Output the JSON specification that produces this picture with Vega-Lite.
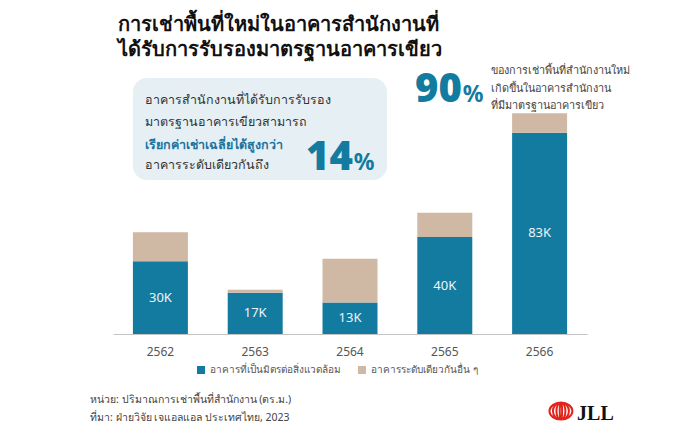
{
  "$schema": "https://vega.github.io/schema/vega-lite/v6.json",
  "width": 474,
  "height": 274,
  "autosize": {"type": "none"},
  "padding": {"left": 113, "top": 60, "right": 113, "bottom": 104},
  "background": "white",
  "config": {
    "view": {"stroke": null},
    "font": "Noto Sans, DejaVu Sans, sans-serif"
  },
  "title": {
    "text": ["การเช่าพื้นที่ใหม่ในอาคารสำนักงานที่", "ได้รับการรับรองมาตรฐานอาคารเขียว"],
    "anchor": "start",
    "frame": "group",
    "fontSize": 20,
    "fontWeight": "bold",
    "color": "#111111",
    "lineHeight": 25,
    "offset": 0,
    "dx": 5
  },
  "resolve": {"scale": {"x": "independent", "y": "independent"}},
  "layer": [
    {
      "data": {
        "values": [
          {"year": "2562", "type": "อาคารที่เป็นมิตรต่อสิ่งแวดล้อม", "k": 0, "v": 30, "label": "30K"},
          {"year": "2562", "type": "อาคารระดับเดียวกันอื่น ๆ", "k": 1, "v": 12, "label": ""},
          {"year": "2563", "type": "อาคารที่เป็นมิตรต่อสิ่งแวดล้อม", "k": 0, "v": 17, "label": "17K"},
          {"year": "2563", "type": "อาคารระดับเดียวกันอื่น ๆ", "k": 1, "v": 1.3, "label": ""},
          {"year": "2564", "type": "อาคารที่เป็นมิตรต่อสิ่งแวดล้อม", "k": 0, "v": 13, "label": "13K"},
          {"year": "2564", "type": "อาคารระดับเดียวกันอื่น ๆ", "k": 1, "v": 18, "label": ""},
          {"year": "2565", "type": "อาคารที่เป็นมิตรต่อสิ่งแวดล้อม", "k": 0, "v": 40, "label": "40K"},
          {"year": "2565", "type": "อาคารระดับเดียวกันอื่น ๆ", "k": 1, "v": 10, "label": ""},
          {"year": "2566", "type": "อาคารที่เป็นมิตรต่อสิ่งแวดล้อม", "k": 0, "v": 83, "label": "83K"},
          {"year": "2566", "type": "อาคารระดับเดียวกันอื่น ๆ", "k": 1, "v": 8, "label": ""}
        ]
      },
      "layer": [
        {
          "mark": {"type": "bar"},
          "encoding": {
            "x": {
              "field": "year", "type": "ordinal",
              "scale": {"paddingInner": 0.42, "paddingOuter": 0.21},
              "axis": {"title": null, "labelAngle": 0, "ticks": false, "domainColor": "#c4c4c4", "labelColor": "#555555", "labelFontSize": 12, "labelPadding": 12, "grid": false}
            },
            "y": {
              "field": "v", "type": "quantitative", "stack": "zero",
              "scale": {"domain": [0, 113], "nice": false, "zero": true},
              "axis": null
            },
            "color": {
              "field": "type", "type": "nominal",
              "scale": {"domain": ["อาคารที่เป็นมิตรต่อสิ่งแวดล้อม", "อาคารระดับเดียวกันอื่น ๆ"], "range": ["#137ba0", "#cfb8a4"]},
              "legend": {"title": null, "orient": "none", "legendX": 83, "legendY": 305, "direction": "horizontal", "symbolType": "square", "symbolSize": 64, "symbolStrokeWidth": 0, "labelFontSize": 10, "labelColor": "#555555", "columnPadding": 16}
            },
            "order": {"field": "k", "type": "quantitative"}
          }
        },
        {
          "mark": {"type": "text", "color": "#eef5f8", "fontSize": 13, "baseline": "middle"},
          "encoding": {
            "x": {"field": "year", "type": "ordinal"},
            "y": {"field": "v", "type": "quantitative", "stack": "zero", "bandPosition": 0.5, "scale": {"domain": [0, 113], "nice": false, "zero": true}},
            "detail": {"field": "type"},
            "order": {"field": "k", "type": "quantitative"},
            "text": {"field": "label"}
          }
        }
      ]
    },
    {
      "layer": [
        {
          "data": {"values": [{"x": 4.2, "x2": 57.8, "y": 105.6, "y2": 63.5}]},
          "mark": {"type": "rect", "fill": "#e6f0f4", "cornerRadius": 14},
          "encoding": {
            "x": {"field": "x", "type": "quantitative", "scale": {"domain": [0, 100], "nice": false, "zero": false}, "axis": null},
            "x2": {"field": "x2"},
            "y": {"field": "y", "type": "quantitative", "scale": {"domain": [0, 113], "nice": false, "zero": false}, "axis": null},
            "y2": {"field": "y2"}
          }
        },
        {
          "data": {"values": [
            {"x": 6.75, "y": 96.5, "t": "อาคารสำนักงานที่ได้รับการรับรอง"},
            {"x": 6.75, "y": 87.4, "t": "มาตรฐานอาคารเขียวสามารถ"},
            {"x": 6.75, "y": 69.7, "t": "อาคารระดับเดียวกันถึง"}
          ]},
          "mark": {"type": "text", "align": "left", "baseline": "middle", "fontSize": 12.5, "color": "#333333"},
          "encoding": {
            "x": {"field": "x", "type": "quantitative"},
            "y": {"field": "y", "type": "quantitative"},
            "text": {"field": "t"}
          }
        },
        {
          "data": {"values": [{"x": 6.75, "y": 77.9, "t": "เรียกค่าเช่าเฉลี่ยได้สูงกว่า"}]},
          "mark": {"type": "text", "align": "left", "baseline": "middle", "fontSize": 12.5, "fontWeight": 600, "color": "#1a74a0"},
          "encoding": {
            "x": {"field": "x", "type": "quantitative"},
            "y": {"field": "y", "type": "quantitative"},
            "text": {"field": "t"}
          }
        },
        {
          "data": {"values": [{"x": 50.6, "y": 67.6, "t": "14"}, {"x": 73.6, "y": 95.7, "t": "90"}]},
          "mark": {"type": "text", "align": "right", "baseline": "alphabetic", "fontSize": 40, "fontWeight": 900, "color": "#137ba0"},
          "encoding": {
            "x": {"field": "x", "type": "quantitative"},
            "y": {"field": "y", "type": "quantitative"},
            "text": {"field": "t"}
          }
        },
        {
          "data": {"values": [{"x": 50.8, "y": 67.6, "t": "%"}, {"x": 73.8, "y": 95.7, "t": "%"}]},
          "mark": {"type": "text", "align": "left", "baseline": "alphabetic", "fontSize": 23, "fontWeight": "bold", "color": "#137ba0"},
          "encoding": {
            "x": {"field": "x", "type": "quantitative"},
            "y": {"field": "y", "type": "quantitative"},
            "text": {"field": "t"}
          }
        },
        {
          "data": {"values": [
            {"x": 79.7, "y": 108.3, "t": "ของการเช่าพื้นที่สำนักงานใหม่"},
            {"x": 79.7, "y": 101.0, "t": "เกิดขึ้นในอาคารสำนักงาน"},
            {"x": 79.7, "y": 94.2, "t": "ที่มีมาตรฐานอาคารเขียว"}
          ]},
          "mark": {"type": "text", "align": "left", "baseline": "middle", "fontSize": 10.8, "color": "#444444"},
          "encoding": {
            "x": {"field": "x", "type": "quantitative"},
            "y": {"field": "y", "type": "quantitative"},
            "text": {"field": "t"}
          }
        },
        {
          "data": {"values": [
            {"x": -4.85, "y": -27.2, "t": "หน่วย: ปริมาณการเช่าพื้นที่สำนักงาน (ตร.ม.)"},
            {"x": -4.85, "y": -34.6, "t": "ที่มา: ฝ่ายวิจัย เจแอลแอล ประเทศไทย, 2023"}
          ]},
          "mark": {"type": "text", "align": "left", "baseline": "middle", "fontSize": 10.5, "color": "#444444"},
          "encoding": {
            "x": {"field": "x", "type": "quantitative"},
            "y": {"field": "y", "type": "quantitative"},
            "text": {"field": "t"}
          }
        },
        {
          "data": {"values": [{"x": 94.5, "y": -31.8}]},
          "mark": {
            "type": "point", "filled": false, "stroke": "#e1251b", "strokeWidth": 2, "opacity": 1, "size": 400,
            "shape": "M0,-0.85 A1.15,0.85 0 1,0 0,0.85 A1.15,0.85 0 1,0 0,-0.85 M0,-0.85 A0.8,0.85 0 1,0 0,0.85 A0.8,0.85 0 1,0 0,-0.85 M0,-0.85 A0.45,0.85 0 1,0 0,0.85 A0.45,0.85 0 1,0 0,-0.85 M0,-0.85 A0.12,0.85 0 1,0 0,0.85 A0.12,0.85 0 1,0 0,-0.85"
          },
          "encoding": {
            "x": {"field": "x", "type": "quantitative"},
            "y": {"field": "y", "type": "quantitative"}
          }
        },
        {
          "data": {"values": [{"x": 97.9, "y": -35.5, "t": "JLL"}]},
          "mark": {"type": "text", "align": "left", "baseline": "alphabetic", "fontSize": 20, "fontWeight": "bold", "font": "Liberation Serif", "color": "#111111"},
          "encoding": {
            "x": {"field": "x", "type": "quantitative"},
            "y": {"field": "y", "type": "quantitative"},
            "text": {"field": "t"}
          }
        }
      ]
    }
  ]
}
